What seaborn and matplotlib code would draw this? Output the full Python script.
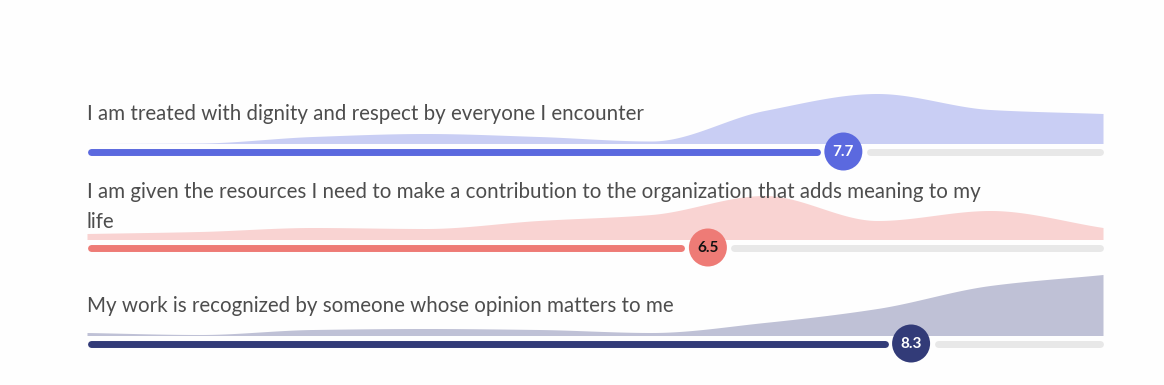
"""Survey statement scores - score bars with response distribution areas."""

import numpy as np
import seaborn as sns
import matplotlib.pyplot as plt

# Data
statements = [
    'I am treated with dignity and respect by everyone I encounter',
    'I am given the resources I need to make a contribution to the organization that adds meaning to my\nlife',
    'My work is recognized by someone whose opinion matters to me',
]
scores = [7.7, 6.5, 8.3]
score_range = [1, 10]
score_steps = [1, 2, 3, 4, 5, 6, 7, 8, 9, 10]

# response distribution per score (relative heights)
dignity_dist = [0, 0.5, 7, 10, 7, 2.5, 33, 50, 34, 30]
resources_dist = [6, 8, 12, 11, 19, 25, 44, 19, 29, 12]
recognized_dist = [3, 1, 6, 7, 6, 3, 13, 27, 50, 61]
dists = [dignity_dist, resources_dist, recognized_dist]

# Colours
bar_colors = ['#5b69df', '#ee7b76', '#323b78']
area_colors = ['#c9cef4', '#f9d3d2', '#bfc1d6']
value_colors = ['white', '#111111', 'white']
track_color = '#e8e8e8'
text_color = '#4d4d4d'

#########################################################################################


def smooth_curve(xs, ys, n=400):
    """Monotone cubic (Fritsch-Carlson) curve for drawing a smooth area."""
    xs = np.asarray(xs, float)
    ys = np.asarray(ys, float)
    h = np.diff(xs)
    d = np.diff(ys) / h
    m = np.zeros_like(ys)
    m[0], m[-1] = d[0], d[-1]
    for i in range(1, len(ys) - 1):
        if d[i - 1] * d[i] > 0:
            m[i] = 2 / (1 / d[i - 1] + 1 / d[i])
    xf = np.linspace(xs[0], xs[-1], n)
    idx = np.clip(np.searchsorted(xs, xf) - 1, 0, len(xs) - 2)
    t = (xf - xs[idx]) / h[idx]
    h00 = 2 * t**3 - 3 * t**2 + 1
    h10 = t**3 - 2 * t**2 + t
    h01 = -2 * t**3 + 3 * t**2
    h11 = t**3 - t**2
    yf = (h00 * ys[idx] + h10 * h[idx] * m[idx]
          + h01 * ys[idx + 1] + h11 * h[idx] * m[idx + 1])
    return xf, np.clip(yf, 0, None)


sns.set_theme(style='white')
plt.rcParams['font.family'] = ['Lato', 'DejaVu Sans']

W, H = 1164, 385
fig = plt.figure(figsize=(W / 100, H / 100), dpi=100)
fig.patch.set_facecolor('#fefefe')
ax = fig.add_axes([0, 0, 1, 1])
ax.set_facecolor('#fefefe')

# x in score units, y in pixels (top down)
px = (score_range[1] - score_range[0]) / (1103 - 87)
ax.set_xlim(score_range[0] - 87 * px, score_range[1] + (W - 1103) * px)
ax.set_ylim(H, 0)
ax.axis('off')

bar_y = [151.5, 247.5, 343.5]
text_y = [114.5, 192, 306]
line_step = 30
radius, gap, cap = 19, 4, 3.5

for i in range(3):
    y0 = bar_y[i]
    base = y0 - 8

    # distribution area
    xf, yf = smooth_curve(score_steps, dists[i])
    ax.fill_between(xf, base, base - yf, color=area_colors[i], lw=0, zorder=1)

    # statement label, one text per wrapped line
    for j, line in enumerate(statements[i].split('\n')):
        ax.text(score_range[0], text_y[i] + j * line_step, line, fontsize=14.8,
                color=text_color, va='center', ha='left', zorder=5)

    # track and filled bar
    off = (radius + gap + cap) * px
    sns.lineplot(x=[scores[i] + off, score_range[1] - cap * px], y=[y0, y0], ax=ax,
                 color=track_color, lw=5, solid_capstyle='round', zorder=2)
    sns.lineplot(x=[score_range[0] + cap * px, scores[i] - off], y=[y0, y0], ax=ax,
                 color=bar_colors[i], lw=5, solid_capstyle='round', zorder=2)

    # value badge
    sns.scatterplot(x=[scores[i]], y=[y0], ax=ax, s=(2 * radius * 0.72) ** 2,
                    color=bar_colors[i], edgecolor='none', zorder=4)
    ax.text(scores[i], y0 + 0.5, f'{scores[i]:.1f}', fontsize=11, fontweight='bold',
            color=value_colors[i], ha='center', va='center', zorder=6)

fig.savefig('out.png', dpi=100, facecolor=fig.get_facecolor())
